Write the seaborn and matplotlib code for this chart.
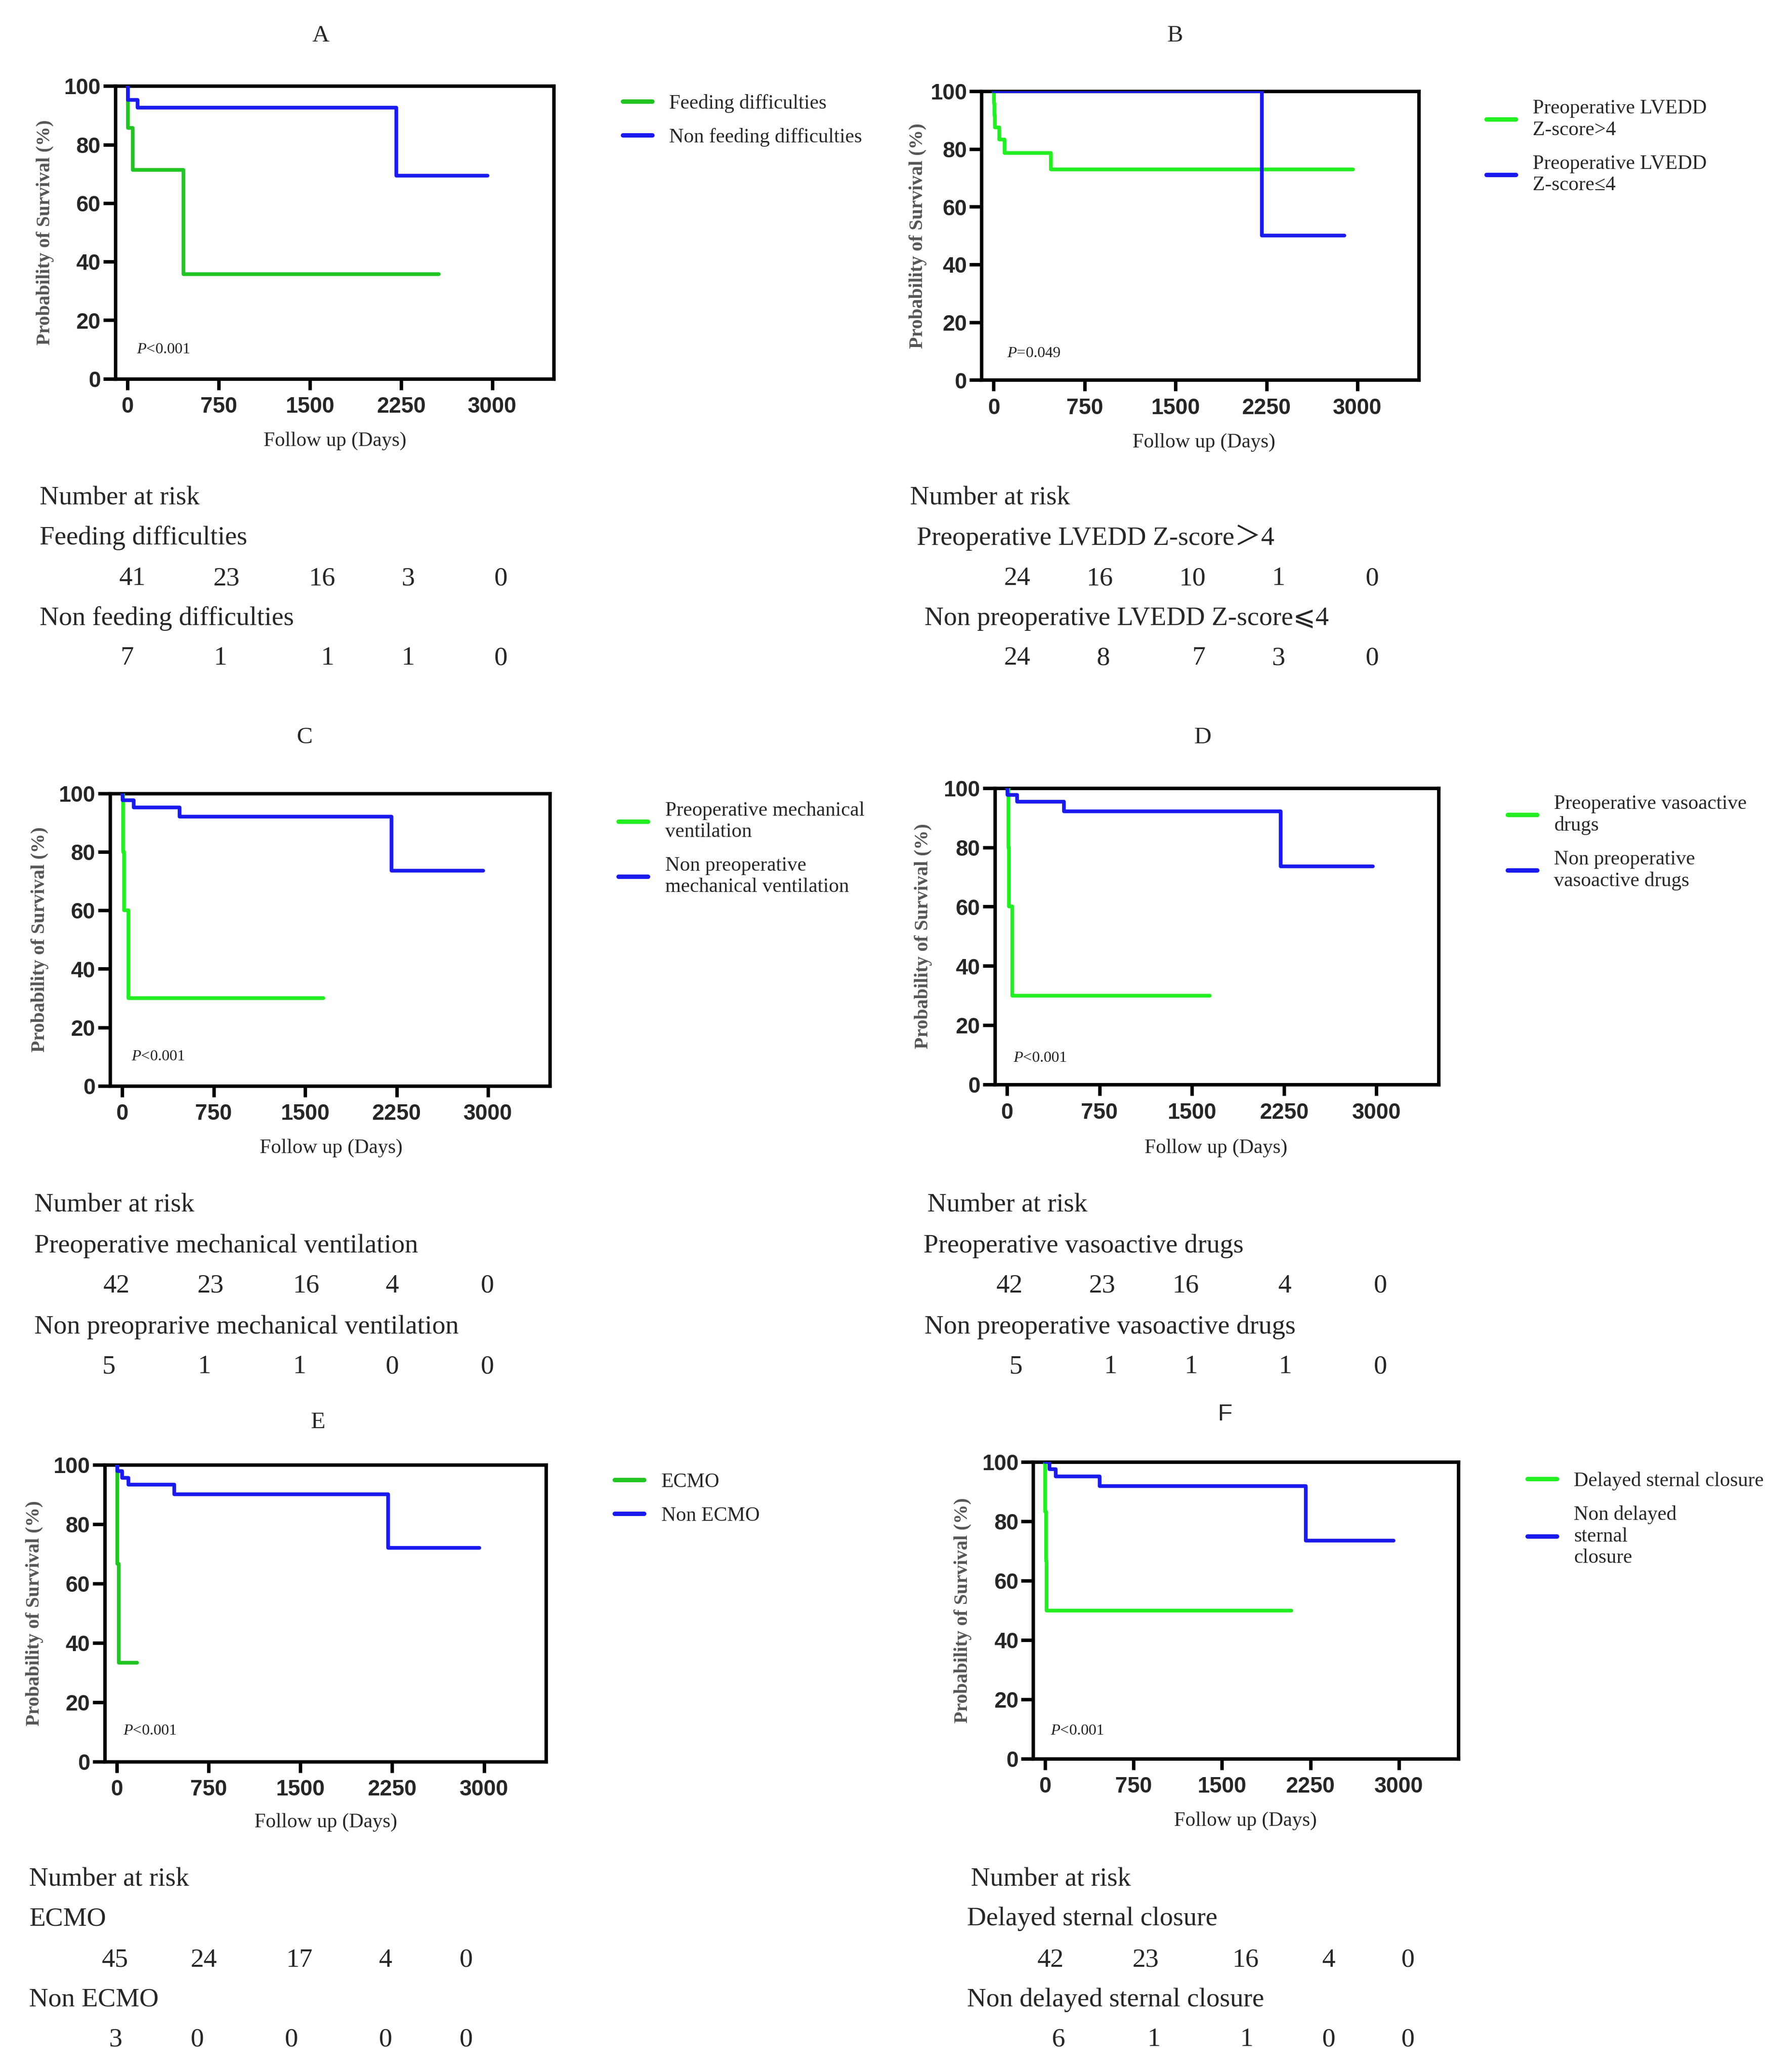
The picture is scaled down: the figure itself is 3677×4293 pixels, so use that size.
import numpy as np
import pandas as pd
import seaborn as sns
import matplotlib.pyplot as plt

# Kaplan-Meier curves: days and survival (%)
a_g_t = [0, 5, 42, 462, 2561]
a_g_s = [100, 85.7, 71.4, 35.7, 35.7]
a_b_t = [0, 5, 85, 2212, 2962]
a_b_s = [100, 95.2, 92.6, 69.4, 69.4]

b_g_t = [0, 2, 5, 10, 47, 90, 472, 2962]
b_g_s = [100, 95.8, 91.7, 87.5, 83.3, 78.6, 72.9, 72.9]
b_b_t = [0, 2212, 2892]
b_b_s = [100, 50, 50]

c_g_t = [0, 9, 14, 52, 1650]
c_g_s = [100, 80, 60, 30, 30]
c_b_t = [0, 2, 94, 469, 2208, 2958]
c_b_s = [100, 97.6, 95.2, 92.0, 73.6, 73.6]

d_g_t = [0, 9, 14, 41, 1647]
d_g_s = [100, 80, 60, 30, 30]
d_b_t = [0, 2, 83, 460, 2222, 2972]
d_b_s = [100, 97.7, 95.3, 92.1, 73.6, 73.6]

e_g_t = [0, 5, 14, 164]
e_g_s = [100, 66.7, 33.3, 33.3]
e_b_t = [0, 2, 42, 94, 469, 2217, 2962]
e_b_s = [100, 97.8, 95.6, 93.3, 90.0, 72.0, 72.0]

f_g_t = [0, 2, 7, 14, 2088]
f_g_s = [100, 83.3, 66.7, 50, 50]
f_b_t = [0, 38, 90, 463, 2212, 2957]
f_b_s = [100, 97.6, 95.2, 92.0, 73.6, 73.6]

titles = ["A", "B", "C", "D", "E", "F"]
p_values = ["<0.001", "=0.049", "<0.001", "<0.001", "<0.001", "<0.001"]

legend_labels = [
    ["Feeding difficulties", "Non feeding difficulties"],
    ["Preoperative LVEDD\nZ-score>4", "Preoperative LVEDD\nZ-score≤4"],
    ["Preoperative mechanical\nventilation", "Non preoperative\nmechanical ventilation"],
    ["Preoperative vasoactive\ndrugs", "Non preoperative\nvasoactive drugs"],
    ["ECMO", "Non ECMO"],
    ["Delayed sternal closure", "Non delayed\nsternal\nclosure"],
]

risk_labels = [
    ["Feeding difficulties", "Non feeding difficulties"],
    ["Preoperative LVEDD Z-score＞4", "Non preoperative LVEDD Z-score⩽4"],
    ["Preoperative mechanical ventilation", "Non preoprarive mechanical ventilation"],
    ["Preoperative vasoactive drugs", "Non preoperative vasoactive drugs"],
    ["ECMO", "Non ECMO"],
    ["Delayed sternal closure", "Non delayed sternal closure"],
]

risk_numbers = [
    [[41, 23, 16, 3, 0], [7, 1, 1, 1, 0]],
    [[24, 16, 10, 1, 0], [24, 8, 7, 3, 0]],
    [[42, 23, 16, 4, 0], [5, 1, 1, 0, 0]],
    [[42, 23, 16, 4, 0], [5, 1, 1, 1, 0]],
    [[45, 24, 17, 4, 0], [3, 0, 0, 0, 0]],
    [[42, 23, 16, 4, 0], [6, 1, 1, 0, 0]],
]

x_ticks = [0, 750, 1500, 2250, 3000]
y_ticks = [0, 20, 40, 60, 80, 100]

curves = [
    (a_g_t, a_g_s, a_b_t, a_b_s),
    (b_g_t, b_g_s, b_b_t, b_b_s),
    (c_g_t, c_g_s, c_b_t, c_b_s),
    (d_g_t, d_g_s, d_b_t, d_b_s),
    (e_g_t, e_g_s, e_b_t, e_b_s),
    (f_g_t, f_g_s, f_b_t, f_b_s),
]

# layout, in pixels of a 1340 x 1564.5 frame
W, H = 1340, 1564.5
layout = [
    dict(ax=(87, 418, 65, 286), title=(242, 27), ylab=34, xlab=333, xlab_x=253, p=(103, 264),
         leg=(470, 71), hdr=(30, 376), r1=(30, 406), n1=(437, [100, 171, 243, 308, 378]),
         r2=(30, 467), n2=(497, [96, 166, 247, 308, 378]), green="#22c422"),
    dict(ax=(741, 1071, 69, 287), title=(887, 27), ylab=693, xlab=334, xlab_x=909, p=(760, 267),
         leg=(1122, 75), hdr=(687, 376), r1=(692, 406), n1=(437, [768, 830, 900, 965, 1036]),
         r2=(698, 467), n2=(497, [768, 833, 905, 965, 1036]), green="#22ee22"),
    dict(ax=(83, 415, 599, 820), title=(230, 557), ylab=30, xlab=867, xlab_x=250, p=(99, 798),
         leg=(467, 605), hdr=(26, 910), r1=(26, 941), n1=(971, [88, 159, 231, 296, 368]),
         r2=(26, 1002), n2=(1032, [82, 154, 226, 296, 368]), green="#22ee22"),
    dict(ax=(751, 1086, 595, 819), title=(908, 557), ylab=697, xlab=867, xlab_x=918, p=(765, 799),
         leg=(1138, 600), hdr=(700, 910), r1=(697, 941), n1=(971, [762, 832, 895, 970, 1042]),
         r2=(698, 1002), n2=(1032, [767, 838, 899, 970, 1042]), green="#22ee22"),
    dict(ax=(79, 412, 1106, 1330), title=(240, 1074), ylab=26, xlab=1376, xlab_x=246, p=(93, 1307),
         leg=(464, 1112), hdr=(22, 1419), r1=(22, 1449), n1=(1480, [87, 154, 226, 291, 352]),
         r2=(22, 1510), n2=(1540, [87, 149, 220, 291, 352]), green="#22c422"),
    dict(ax=(780, 1101, 1104, 1328), title=(925, 1068), ylab=727, xlab=1375, xlab_x=940, p=(793, 1307),
         leg=(1153, 1111), hdr=(733, 1419), r1=(730, 1449), n1=(1480, [793, 865, 940, 1003, 1063]),
         r2=(730, 1510), n2=(1540, [799, 871, 941, 1003, 1063]), green="#22ee22"),
]

blue = "#1a1aee"

sns.set_style("ticks")
plt.rcParams["font.family"] = ["Liberation Serif", "Noto Sans CJK SC", "DejaVu Sans"]
plt.rcParams["mathtext.fontset"] = "custom"
plt.rcParams["mathtext.rm"] = "Liberation Serif"
plt.rcParams["mathtext.it"] = "Liberation Serif:italic"

fig = plt.figure(figsize=(13.4, 15.645), dpi=274.41)
fig.patch.set_facecolor("white")


def fx(x):
    return x / W


def fy(y):
    return 1 - y / H


for i in range(6):
    L = layout[i]
    gt, gs, bt, bs = curves[i]
    l, r, t, b = L["ax"]
    ax = fig.add_axes([fx(l), fy(b), (r - l) / W, (b - t) / H])

    df = pd.concat([
        pd.DataFrame({"days": gt, "surv": gs, "group": legend_labels[i][0]}),
        pd.DataFrame({"days": bt, "surv": bs, "group": legend_labels[i][1]}),
    ])
    sns.lineplot(data=df, x="days", y="surv", hue="group",
                 palette=[L["green"], blue], estimator=None, sort=False,
                 drawstyle="steps-post", linewidth=2.0, ax=ax)

    ax.set_xlim(-100, 3505)
    ax.set_ylim(0, 100)
    ax.set_xticks(x_ticks)
    ax.set_yticks(y_ticks)
    for s in ax.spines.values():
        s.set_linewidth(1.9)
        s.set_color("black")
        s.set_zorder(1)
    ax.tick_params(axis="both", width=1.9, color="black")
    ax.tick_params(axis="y", length=6.5, pad=1.5)
    ax.tick_params(axis="x", length=6, pad=3.5)
    for lab in ax.get_xticklabels() + ax.get_yticklabels():
        lab.set_fontfamily("Liberation Sans")
        lab.set_fontweight("bold")
        lab.set_fontsize(12)

    ax.set_xlabel("Follow up (Days)", fontsize=11)
    ax.xaxis.set_label_coords((L["xlab_x"] - l) / (r - l), (b - L["xlab"]) / (b - t))
    ax.xaxis.label.set_va("center")
    ax.set_ylabel("Probability of Survival (%)", fontsize=10.5,
                  fontweight="bold", color="#555555")
    ax.yaxis.set_label_coords((L["ylab"] - l) / (r - l), 0.5)
    ax.yaxis.label.set_va("center")

    ax.text((L["p"][0] - l) / (r - l), (b - L["p"][1]) / (b - t),
            r"$\mathit{P}$" + p_values[i], transform=ax.transAxes,
            fontsize=8.5, ha="left", va="center", color="#222222")

    handles, labels = ax.get_legend_handles_labels()
    leg = ax.legend(handles, labels, loc="upper left",
                    bbox_to_anchor=(fx(L["leg"][0]), fy(L["leg"][1])),
                    bbox_transform=fig.transFigure, frameon=False,
                    borderpad=0, borderaxespad=0, handlelength=1.45,
                    handletextpad=0.85, labelspacing=0.75, fontsize=11)
    for h in leg.get_lines():
        h.set_linewidth(2.4)

    tfam = "Liberation Sans" if titles[i] == "F" else "Liberation Serif"
    fig.text(fx(L["title"][0]), fy(L["title"][1]), titles[i], fontsize=13,
             family=tfam, ha="center", va="center")

    # number at risk table
    fig.text(fx(L["hdr"][0]), fy(L["hdr"][1]), "Number at risk",
             fontsize=14.5, ha="left", va="center")
    fig.text(fx(L["r1"][0]), fy(L["r1"][1]), risk_labels[i][0],
             fontsize=14.5, ha="left", va="center")
    fig.text(fx(L["r2"][0]), fy(L["r2"][1]), risk_labels[i][1],
             fontsize=14.5, ha="left", va="center")
    for row, key in zip(risk_numbers[i], ["n1", "n2"]):
        yy, xs = L[key]
        for v, xx in zip(row, xs):
            fig.text(fx(xx), fy(yy), str(v), fontsize=14.5, ha="center", va="center")

fig.savefig("out.png", dpi=274.41, facecolor="white")
